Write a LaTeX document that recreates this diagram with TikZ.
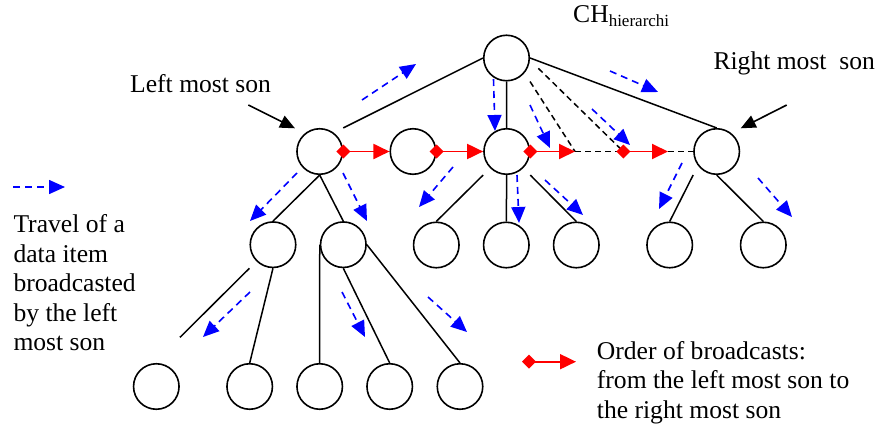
\documentclass[tikz,border=0pt]{standalone}
\usepackage{fontspec}
\setmainfont{Liberation Serif}
\usetikzlibrary{arrows.meta,shapes.geometric}

\begin{document}
\begin{tikzpicture}[x=1pt,y=-1pt,
  every node/.style={inner sep=0pt},
  vertex/.style={circle,draw,line width=1.6pt,minimum size=45.5pt},
  edge/.style={line width=1.5pt},
  guide/.style={line width=1.5pt,dash pattern=on 6pt off 4pt},
  travel/.style={blue,line width=1.6pt,dash pattern=on 7pt off 5pt,
    -{Triangle[length=16pt,width=14pt]}},
  order/.style={red,line width=1.9pt,
    {Diamond[length=14pt,width=14pt]}-{Triangle[length=16pt,width=15pt]},
    shorten <=-7pt},
  pointer/.style={line width=1.6pt,-{Triangle[length=15pt,width=13pt]}},
  lbl/.style={font=\fontsize{25.6pt}{29.6pt}\selectfont,align=left,anchor=base west}
]
\useasboundingbox (0,0) rectangle (878,423);

% ---- tree nodes ----
\node[vertex] (root) at (506.5,58) {};
\node[vertex] (ls)   at (319.7,151.5) {};
\node[vertex] (n2)   at (413,151.5) {};
\node[vertex] (n3)   at (506.7,151.5) {};
\node[vertex] (rs)   at (716.7,151.5) {};
\node[vertex] (l2a)  at (273,244.7) {};
\node[vertex] (l2b)  at (343.3,244.7) {};
\node[vertex] (c1)   at (436.3,245) {};
\node[vertex] (c2)   at (506.3,245) {};
\node[vertex] (c3)   at (576.3,245) {};
\node[vertex] (c4)   at (669.7,245) {};
\node[vertex] (c5)   at (763.3,245) {};
\node[vertex] (b1)   at (156.3,386.5) {};
\node[vertex] (b2)   at (249.7,386.5) {};
\node[vertex] (b3)   at (319.7,386.5) {};
\node[vertex] (b4)   at (389.7,386.5) {};
\node[vertex] (b5)   at (460,386.5) {};

% ---- helper points on the broadcast line ----
\coordinate (m1) at (575,151.5);
\coordinate (m2) at (623.3,151.5);
\coordinate (m3) at (668,151.5);
\coordinate (d2) at (538.3,68.3);
\coordinate (e1) at (180,337.3);

% ---- labels (multi-line labels are placed by their last baseline) ----
\node[lbl] (chl) at (573,22.7) {CH\raisebox{-3.5pt}{\fontsize{17pt}{17pt}\selectfont hierarchi}};
\node[lbl] (lms) at (130,92.7) {Left most son};
\node[lbl] (rms) at (713.3,69.3) {Right most~ son};
\node[lbl] (leg1) at (13.3,350.8) {Travel of a\\data item\\broadcasted\\by the left\\most son};
\node[lbl] (leg2) at (596.7,418.5) {Order of broadcasts:\\from the left most son to\\the right most son};

% ---- tree edges ----
\draw[edge] (root.west) -- (ls.north -| ls.east);
\draw[edge] (root.south) -- (n3.north);
\draw[edge] (root.east) -- (rs.north);
\draw[edge] (ls.south) -- (l2a.north);
\draw[edge] (ls.south) -- (l2b.north);
\draw[edge] (l2a.south -| l2a.west) -- (e1);
\draw[edge] (l2a.south) -- (b2.north);
\draw[edge] (l2b.west) -- (b3.north);
\draw[edge] (l2b.south) -- (b4.north);
\draw[edge] (l2b.east) -- (b5.north);
\draw[edge] (n3.south -| n3.west) -- (c1.north);
\draw[edge] (n3.south) -- (c2.north);
\draw[edge] (n3.south -| n3.east) -- (c3.north);
\draw[edge] (rs.south -| rs.west) -- (c4.north);
\draw[edge] (rs.south) -- (c5.north);

% ---- dashed links to the sons not drawn ----
\draw[guide] (root.south -| root.east) -- (m1);
\draw[guide] (d2) -- (m2);
\draw[guide] (m1) -- (m2);
\draw[guide] (m3) -- (rs.west);

% ---- order of broadcasts ----
\draw[order] (ls.east) -- (n2.west);
\draw[order] (n2.east) -- (n3.west);
\draw[order] (n3.east) -- (m1);
\draw[order] (m2) -- (m3);

% ---- pointers to the outer sons ----
\draw[pointer] (248.3,105) -- (295,128.3);
\draw[pointer] (786.7,105) -- (740.7,128.3);

% ---- travel of the data item ----
\draw[travel] (362,100) -- (416,64);
\draw[travel] (493.5,79) -- (495,131);
\draw[travel] (530,105) -- (550,148);
\draw[travel] (592,109) -- (630,145);
\draw[travel] (610,71) -- (658,92);
\draw[travel] (682,163) -- (659,209);
\draw[travel] (758,178) -- (792,217);
\draw[travel] (453,167) -- (419,207);
\draw[travel] (517,175) -- (519,223);
\draw[travel] (545,180) -- (583,215);
\draw[travel] (297,173) -- (250,221);
\draw[travel] (343,173) -- (367,221);
\draw[travel] (250,292) -- (203,337);
\draw[travel] (342,292) -- (365,337);
\draw[travel] (428,297) -- (467,332);

% ---- legend arrows ----
\draw[travel] (13,187) -- (65,187);
\draw[order] (529,361.7) -- (576,361.7);
\end{tikzpicture}
\end{document}
